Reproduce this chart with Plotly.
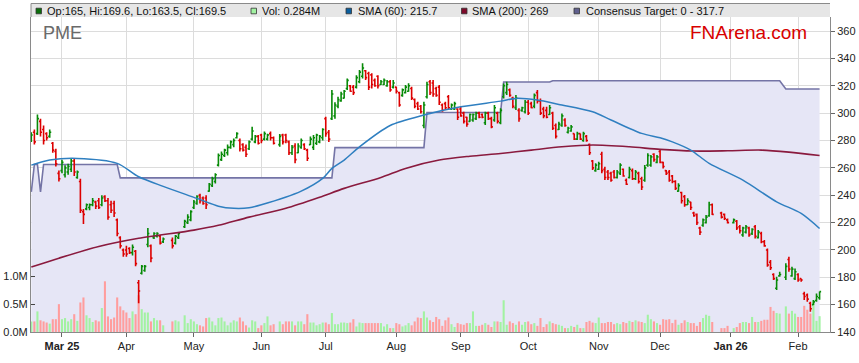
import pandas as pd
import plotly.graph_objects as go

START, END = "2025-02-17", "2026-02-11"
HOLIDAYS = ["2025-04-18", "2025-04-21", "2025-04-25", "2025-06-09",
            "2025-12-25", "2025-12-26", "2026-01-01", "2026-01-26"]

opens = [
    280, 286, 285, 294, 288, 285, 283, 278, 272, 256,
    258, 255, 257, 259, 265, 253, 250, 228, 230, 231,
    233, 235, 236, 233, 239, 236, 233, 234, 222, 209,
    200, 200, 201, 198, 199, 176, 183, 185, 204, 203,
    209, 210, 210, 206,
    207, 205, 209,
    217, 220, 222, 231, 234, 240, 238, 238, 243, 247,
    250, 262, 266, 269, 271, 275, 277, 282, 280, 277,
    275, 274, 281, 279, 283, 284, 281, 281, 285, 282,
    277, 284, 284, 279, 271, 276, 271, 275, 277,
    273, 277, 275, 278, 279, 282, 296, 286, 296, 298,
    305, 309, 311, 318, 320, 319, 319, 323, 327, 331,
    329, 328, 324, 327, 321, 321, 320, 323, 319, 319,
    315, 313, 315, 316, 318, 310, 307, 305, 291, 312,
    323, 322, 318, 319, 306, 307, 312, 303, 303, 303,
    303, 300, 297, 294, 295, 296, 300, 299, 293, 300,
    296, 295, 300, 293, 312, 315, 317, 311, 304, 302,
    302, 301, 308, 307, 305, 315, 309, 303, 302, 299,
    300, 291, 288, 291, 295, 286, 287, 285, 281, 285,
    280, 283, 277, 265, 258, 259, 270, 259, 257, 256,
    257, 253, 256, 259, 251, 253, 258, 252, 256, 252,
    251, 262, 262, 270, 264, 272, 264, 258, 257, 254,
    250, 243, 242, 239, 233, 235, 227, 226, 216, 218,
    220, 225, 233,
    227, 226, 222,
    220, 221, 217, 211, 213, 216, 212, 217, 209, 212, 206,
    200, 191, 182, 172, 181,
    180, 193, 181, 179, 182, 179, 168, 167, 161, 160, 163, 165,
]
highs = [
    286, 288, 299, 296, 291, 286, 288, 279, 274, 258,
    266, 262, 263, 267, 267, 258, 252, 230, 234, 234,
    238, 236, 238, 240, 240, 238, 236, 236, 223, 210,
    201, 203, 202, 204, 200, 178, 189, 189, 216, 204,
    213, 213, 211, 209,
    209, 211, 213,
    222, 226, 229, 236.5, 240, 241, 239, 240, 249, 253.5,
    256, 270.5, 272, 274, 277, 280, 281.5, 286, 281.5, 278,
    277, 280, 290, 284, 284, 285, 286.5, 285, 286.5, 283,
    284.7, 285, 285, 280, 276.7, 278, 278, 281.5, 278,
    274, 283, 284, 285, 284, 289, 297.4, 287.6, 317, 308,
    312, 315.7, 316.9, 325.4, 320.5, 320.5, 327.8, 331.5, 336.4, 331.5,
    330.3, 329.1, 325.4, 327.8, 324.2, 325.4, 324.2, 324.2, 324.2, 319.3,
    315.7, 318.1, 320.5, 321.8, 319.3, 310.8, 308.3, 305.9, 308.3, 323,
    324.2, 324.2, 319.3, 320.5, 307.1, 308.3, 313.2, 307.1, 308.3, 303.5,
    304.7, 301, 297.4, 299.8, 299.8, 301, 301, 299.8, 301, 301,
    297.4, 305.9, 301, 303.5, 321.7, 323, 318.1, 312, 313.2, 303.5,
    304.7, 309.6, 309.6, 308.3, 314.4, 316.9, 310.8, 304.7, 304.7, 305.9,
    301, 292.5, 293.7, 299.8, 296.2, 290.1, 291.3, 285.2, 286.4, 285.2,
    286.4, 284, 277.9, 265.7, 263.3, 264.5, 271.8, 260.8, 258.4, 257.2,
    258.4, 258.4, 263.3, 259.6, 252.3, 260.8, 259.6, 258.4, 257.2, 253.5,
    262.1, 270.6, 269.4, 270.6, 269.4, 273, 264.5, 258.4, 258.4, 254.7,
    251, 248.7, 242.6, 240.1, 237.7, 235.3, 227.9, 226.7, 217, 223,
    225.5, 235.3, 234,
    228, 226.7, 223,
    223, 221.8, 218.2, 217, 218.2, 217, 215.8, 218.2, 214.5, 213.3, 207.2,
    201.1, 192.6, 182.9, 180.4, 184.1,
    190.2, 195, 187.7, 186.5, 182.9, 179.2, 169.5, 168.2, 162.1, 163.4, 168.2, 169.6,
]
lows = [
    279, 277, 284, 283, 277, 280, 282, 271, 261, 250,
    256, 253, 255, 257, 254, 252, 227, 219, 229, 229,
    232, 230, 230, 232, 235, 222, 227, 224, 210, 201,
    195, 195, 197, 196, 188, 161, 182, 184, 202, 191,
    208, 209, 204, 205,
    201, 204, 208,
    216, 219, 221, 230, 233, 234, 233, 230, 242.5, 246,
    248.5, 261, 265, 268, 269, 274, 275, 281.5, 272, 272,
    268, 273, 280, 278, 277, 278, 280, 280, 280, 277,
    275.4, 277, 278, 269.4, 269.4, 263.3, 270.6, 274, 273,
    265, 276.7, 273, 276.7, 278, 280, 282.8, 279, 295, 296,
    303.5, 308.3, 310.8, 316.9, 315.7, 313.2, 318.1, 321.8, 325.4, 324.2,
    316.9, 318.1, 319.3, 318.1, 320.5, 320.5, 319.3, 315.7, 318.1, 314.4,
    304.7, 312, 314.4, 315.7, 309.6, 303.5, 302.3, 299.8, 288.9, 310.8,
    313.2, 312, 312, 305.9, 301, 302.3, 302.3, 302.3, 302.3, 295,
    297.4, 292.5, 290.1, 293.7, 293.7, 295, 296.2, 296.2, 291.3, 295,
    288.9, 293.7, 292.5, 291.8, 310.8, 313.2, 312, 303.5, 302.3, 293.7,
    301, 299.8, 298.6, 303.5, 303.5, 307.1, 298.6, 296.2, 296.2, 298.6,
    287.6, 281.5, 287.6, 290.1, 290.1, 285.2, 286.4, 280.3, 280.3, 280.3,
    279.1, 279.1, 269.4, 258.4, 257.2, 258.4, 256, 251.1, 251.1, 249.9,
    252.3, 252.3, 254.7, 253.5, 247.4, 252.3, 251.1, 251.1, 248.6, 243.8,
    249.9, 260.8, 260.8, 264.5, 263.3, 263.3, 259.6, 254.7, 249.9, 248.7,
    243.8, 242.6, 234, 231.6, 232.8, 229.2, 224.3, 218.2, 210.9, 217,
    219.4, 224.3, 225.5,
    223, 221.8, 219.4,
    219.4, 214.5, 212.1, 209.7, 212.1, 209.7, 210.9, 208.4, 208.4, 204.8, 202.4,
    187.7, 185.3, 178, 170.7, 180.4,
    178, 184.1, 180.4, 178, 176.8, 176.8, 163.4, 162.1, 154.8, 159.7, 162.1, 163.5,
]
closes = [
    284, 279, 296, 286, 280, 282, 286, 273, 263, 252,
    264, 260, 261, 265, 257, 257, 229, 226, 233, 233,
    236, 232, 231, 238, 236, 224, 229, 227, 212, 203,
    197, 197, 198, 202, 190, 170, 188, 188, 212, 194,
    212, 212, 205, 208,
    203, 210, 212,
    221, 224, 228, 235, 239, 236, 234, 233, 248, 252,
    255, 269, 270, 273, 275, 279, 280, 285, 274, 273,
    270, 279, 287, 283, 278, 280, 285, 284, 282, 278,
    283, 279, 280, 271, 275, 266, 276, 280, 274,
    267, 281, 282, 284, 283, 288, 285, 281, 314, 306,
    310, 314, 316, 324, 316, 315, 326, 330, 333, 326,
    319, 321, 320, 320, 323, 324, 323, 317, 322, 316,
    306, 317, 319, 320, 311, 305, 303, 301, 306, 321,
    315, 314, 313, 308, 302, 304, 304, 306, 307, 297,
    298, 294, 292, 299, 299, 300, 297, 297, 300, 296,
    290, 304, 294, 302, 320, 321, 313, 305, 311, 296,
    304, 308, 300, 304, 313, 309, 300, 298, 297, 304,
    289, 283, 292, 298, 291, 289, 290, 281, 285, 281,
    285, 280, 271, 260, 262, 263, 258, 253, 253, 251,
    253, 257, 262, 254, 248, 259, 252, 257, 250, 246,
    260, 269, 268, 266, 268, 264, 261, 256, 251, 250,
    245, 247, 236, 233, 236, 231, 225, 220, 213, 222,
    224, 233, 226,
    224, 223, 220,
    222, 216, 214, 216, 217, 211, 215, 210, 213, 206, 203,
    189, 187, 179, 178, 182,
    188, 186, 186, 184, 178, 178, 166, 164, 157, 162, 166, 169.5,
]
volumes_m = [
    0.19, 0.19, 0.37, 0.21, 0.19, 0.17, 0.15, 0.23, 0.23, 0.50,
    0.23, 0.25, 0.19, 0.23, 0.32, 0.20, 0.53, 0.62, 0.30, 0.25,
    0.18, 0.21, 0.19, 0.43, 0.91, 0.28, 0.23, 0.26, 0.62, 0.46,
    0.39, 0.35, 0.25, 0.37, 0.32, 0.66, 0.41, 0.35, 0.35, 0.19,
    0.25, 0.21, 0.21, 0.12,
    0.19, 0.21, 0.19,
    0.30, 0.16, 0.23, 0.19, 0.14, 0.12, 0.10, 0.25, 0.26, 0.19,
    0.12, 0.25, 0.26, 0.19, 0.12, 0.17, 0.21, 0.19, 0.26, 0.19,
    0.12, 0.08, 0.21, 0.19, 0.07, 0.12, 0.16, 0.28, 0.12, 0.14,
    0.19, 0.14, 0.19, 0.19, 0.19, 0.12, 0.19, 0.19, 0.14,
    0.32, 0.17, 0.17, 0.12, 0.14, 0.17, 0.17, 0.14, 0.34, 0.14,
    0.14, 0.17, 0.17, 0.16, 0.17, 0.23, 0.10, 0.17, 0.16, 0.16,
    0.16, 0.16, 0.16, 0.16, 0.16, 0.10, 0.14, 0.07, 0.07, 0.16,
    0.14, 0.10, 0.12, 0.16, 0.12, 0.19, 0.26, 0.25, 0.37, 0.26,
    0.21, 0.18, 0.27, 0.23, 0.11, 0.21, 0.26, 0.14, 0.09, 0.16,
    0.14, 0.13, 0.16, 0.16, 0.37, 0.11, 0.11, 0.13, 0.16, 0.13,
    0.09, 0.19, 0.19, 0.18, 0.57, 0.13, 0.19, 0.16, 0.13, 0.19,
    0.13, 0.18, 0.19, 0.14, 0.16, 0.11, 0.25, 0.09, 0.14, 0.19,
    0.16, 0.14, 0.13, 0.11, 0.07, 0.07, 0.11, 0.09, 0.13, 0.07,
    0.07, 0.18, 0.20, 0.17, 0.16, 0.26, 0.16, 0.16, 0.18, 0.18,
    0.14, 0.16, 0.14, 0.18, 0.16, 0.20, 0.18, 0.21, 0.19, 0.18,
    0.16, 0.31, 0.23, 0.19, 0.16, 0.13, 0.23, 0.22, 0.23, 0.16,
    0.22, 0.13, 0.16, 0.21, 0.18, 0.16, 0.16, 0.11, 0.18, 0.25,
    0.31, 0.29, 0.18,
    0.07, 0.07, 0.11,
    0.07, 0.09, 0.16, 0.18, 0.18, 0.16, 0.27, 0.18, 0.18, 0.20, 0.22,
    0.22, 0.45, 0.38, 0.34, 0.33,
    0.46, 0.33, 0.38, 0.33, 0.27, 0.27, 0.47, 0.40, 0.33, 0.57, 0.20, 0.284,
]

sma60_dates = ["2025-02-17", "2025-02-25", "2025-03-10", "2025-03-27", "2025-04-07",
               "2025-04-17", "2025-05-02", "2025-05-13", "2025-05-20", "2025-05-27",
               "2025-06-02", "2025-06-19", "2025-06-30", "2025-07-03", "2025-07-09",
               "2025-07-16", "2025-07-30", "2025-08-14", "2025-09-01", "2025-09-18",
               "2025-09-25", "2025-10-06", "2025-10-15", "2025-10-30", "2025-11-07",
               "2025-11-21", "2025-12-01", "2025-12-05", "2025-12-15", "2025-12-23",
               "2026-01-07", "2026-01-22", "2026-02-03", "2026-02-11"]
sma60_values = [262, 265.7, 266.9, 263.3, 253.5, 246.5, 237.7, 232, 230.4, 230.8,
                233, 243, 252.3, 259.6, 265.7, 275.4, 291, 298.6, 304.6, 308.8,
                310.8, 309.6, 306.4, 301, 295, 285.2, 282, 279, 273, 263.3,
                251, 235.2, 226.7, 215.7]

sma200_dates = ["2025-02-17", "2025-02-28", "2025-03-19", "2025-04-07", "2025-05-01",
                "2025-05-13", "2025-05-27", "2025-06-12", "2025-06-27", "2025-07-09",
                "2025-07-25", "2025-08-06", "2025-08-21", "2025-09-04", "2025-09-18",
                "2025-10-02", "2025-10-16", "2025-10-30", "2025-11-17", "2025-12-01",
                "2025-12-16", "2025-12-31", "2026-01-15", "2026-01-28", "2026-02-11"]
sma200_values = [187.5, 194, 202.5, 208.5, 214.5, 218, 224, 230.4, 238.5, 245,
                 253, 259.6, 265.7, 268.5, 270.5, 273, 275.4, 276.7, 275.4, 273.5,
                 272.3, 272.5, 273, 271.5, 269]

target_dates = ["2025-02-17", "2025-02-18", "2025-02-19", "2025-02-20", "2025-02-21",
                "2025-03-27", "2025-03-28", "2025-07-03", "2025-07-04", "2025-08-14",
                "2025-08-15", "2025-09-18", "2025-09-19", "2025-10-10", "2025-10-13",
                "2026-01-23", "2026-01-27", "2026-02-11"]
target_values = [242.5, 262.5, 262.5, 242.5, 262.5, 262.5, 252.7, 252.7, 274.8, 274.8,
                 300.5, 300.5, 322.8, 322.8, 323.7, 323.7, 317.7, 317.7]

tick_months = ["2025-03", "2025-04", "2025-05", "2025-06", "2025-07", "2025-08",
               "2025-09", "2025-10", "2025-11", "2025-12", "2026-01", "2026-02"]
tick_labels = ["Mar 25", "Apr", "May", "Jun", "Jul", "Aug",
               "Sep", "Oct", "Nov", "Dec", "Jan 26", "Feb"]
price_ticks = list(range(140, 361, 20))

# ---------------------------------------------------------------
NOON = pd.Timedelta(hours=12)
weekdays = pd.bdate_range(START, END)
trading = weekdays[~weekdays.isin(pd.to_datetime(HOLIDAYS))]
x = trading + NOON

up = [c >= o for o, c in zip(opens, closes)]
vol_colors = ["#a2f2a2" if u else "#ff9d9d" for u in up]

tickvals = []
for m in tick_months:
    first = weekdays[weekdays.strftime("%Y-%m") == m][0]
    tickvals.append(first + NOON)
ticktext = [f"<b>{t}</b>" if " " in t else t for t in tick_labels]

def noon(ds):
    return pd.to_datetime(ds) + NOON

FONT = "Liberation Sans, Arial, sans-serif"

fig = go.Figure()
fig.add_trace(go.Scatter(
    x=noon(target_dates), y=target_values, mode="lines", fill="tozeroy",
    fillcolor="#e6e6f6", line=dict(color="#7474a6", width=1.6),
    yaxis="y", hoverinfo="skip"))
fig.add_trace(go.Bar(
    x=x, y=volumes_m, marker=dict(color=vol_colors, line=dict(width=0)),
    yaxis="y2", hoverinfo="skip"))
fig.add_trace(go.Scatter(
    x=noon(sma200_dates), y=sma200_values, mode="lines",
    line=dict(color="#8a1a3e", width=1.6, shape="spline", smoothing=0.8),
    yaxis="y3", hoverinfo="skip"))
fig.add_trace(go.Scatter(
    x=noon(sma60_dates), y=sma60_values, mode="lines",
    line=dict(color="#2f7fc0", width=1.5, shape="spline", smoothing=0.8),
    yaxis="y3", hoverinfo="skip"))
fig.add_trace(go.Ohlc(
    x=x, open=opens, high=highs, low=lows, close=closes,
    increasing=dict(line=dict(color="#078a07", width=1.6)),
    decreasing=dict(line=dict(color="#dd0000", width=1.6)),
    tickwidth=0.5, yaxis="y3", hoverinfo="skip"))

x_left = pd.Timestamp("2025-02-17 09:36")
x_right = pd.Timestamp("2026-02-16 21:36")
PRICE_RANGE = [140, 370.3]

fig.update_layout(
    width=859, height=363,
    margin=dict(l=31, r=29, t=17, b=31, autoexpand=False),
    paper_bgcolor="white", plot_bgcolor="white",
    showlegend=False, bargap=0.32,
    font=dict(family=FONT, size=11, color="#222"),
    xaxis=dict(
        type="date", range=[x_left, x_right], automargin=False,
        rangebreaks=[dict(bounds=["sat", "mon"])],
        rangeslider=dict(visible=False),
        tickmode="array", tickvals=tickvals, ticktext=ticktext,
        showgrid=True, gridcolor="#dcdcdc", gridwidth=1,
        ticks="outside", ticklen=4, tickcolor="#666",
        showline=True, linecolor="#8a8a8a", linewidth=1,
        tickfont=dict(family=FONT, size=11, color="#222"),
        zeroline=False),
    yaxis=dict(
        range=PRICE_RANGE, side="right", tickmode="array", tickvals=price_ticks,
        automargin=False,
        showgrid=True, gridcolor="#dcdcdc", gridwidth=1,
        ticks="outside", ticklen=4, tickcolor="#666",
        showline=True, linecolor="#8a8a8a", linewidth=1,
        tickfont=dict(family=FONT, size=11, color="#222"), zeroline=False),
    yaxis2=dict(
        overlaying="y", side="left", range=[0, 5.655], automargin=False,
        tickmode="array", tickvals=[0, 0.5, 1.0], ticktext=["0.0M", "0.5M", "1.0M"],
        showgrid=False, zeroline=False, ticks="inside", ticklen=4, tickcolor="#444",
        showline=True, linecolor="#8a8a8a", linewidth=1,
        tickfont=dict(family=FONT, size=11, color="#222")),
    yaxis3=dict(overlaying="y", range=PRICE_RANGE, visible=False, automargin=False),
)

W, H, L, T = 799.0, 315.0, 31.0, 17.0
def px(xp):
    return (xp - L) / W
def py(yp):
    return (T + H - yp) / H

shapes = [
    dict(type="rect", xref="paper", yref="paper", x0=0, x1=1, y0=1, y1=py(3.5),
         fillcolor="#e6e6e6", line=dict(width=0), layer="below"),
    dict(type="line", xref="paper", yref="paper", x0=0, x1=1, y0=py(3.5), y1=py(3.5),
         line=dict(color="#8a8a8a", width=1)),
    dict(type="line", xref="paper", yref="paper", x0=0, x1=0, y0=1, y1=py(3.5),
         line=dict(color="#8a8a8a", width=1)),
]
legend = [
    ("#0a6e0a", 36, 45, "Op:165, Hi:169.6, Lo:163.5, Cl:169.5"),
    ("#a2f2a2", 251, 259.5, "Vol: 0.284M"),
    ("#0a5e9e", 346, 355.5, "SMA (60): 215.7"),
    ("#7e0a2a", 461.5, 470, "SMA (200): 269"),
    ("#60608e", 574, 583.5, "Consensus Target: 0 - 317.7"),
]
annotations = []
for color, sx, tx, label in legend:
    shapes.append(dict(type="rect", xref="paper", yref="paper",
                       x0=px(sx), x1=px(sx + 5.5), y0=py(13.8), y1=py(8.2),
                       fillcolor=color, line=dict(color="#333", width=0.8)))
    annotations.append(dict(xref="paper", yref="paper", x=px(tx), y=py(11),
                            xanchor="left", yanchor="middle", showarrow=False,
                            text=label, font=dict(family=FONT, size=11, color="#111")))
annotations.append(dict(xref="paper", yref="paper", x=px(41), y=py(33),
                        xanchor="left", yanchor="middle", showarrow=False,
                        text="PME", font=dict(family=FONT, size=18, color="#6a6a6a")))
annotations.append(dict(xref="paper", yref="paper", x=px(809), y=py(32.5),
                        xanchor="right", yanchor="middle", showarrow=False,
                        text="FNArena.com", font=dict(family=FONT, size=19, color="#d80000")))
fig.update_layout(shapes=shapes, annotations=annotations)

fig.write_html("out.html",
               config={"displayModeBar": False, "staticPlot": True},
               post_script="document.body.style.margin='0px';"
                           "document.body.style.overflow='hidden';")
